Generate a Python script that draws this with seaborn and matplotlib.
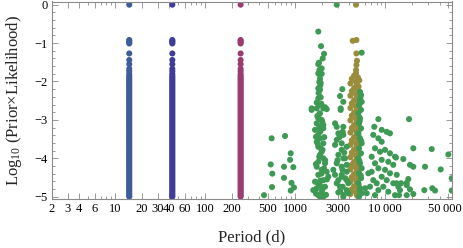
import colorsys
import numpy as np
import pandas as pd
import matplotlib
matplotlib.use("Agg")
import matplotlib.pyplot as plt
import matplotlib.transforms as mtransforms
import seaborn as sns
from matplotlib.ticker import FixedLocator, FixedFormatter, NullFormatter

# ---------------- data ----------------
# log10(prior x likelihood) values shared by the three narrow period columns
column_logl = [0.0, -0.92, -0.95, -0.98, -1.01, -1.27, -1.44, -1.55, -1.67, -1.73, -1.80,
               -1.85, -1.89, -1.93, -1.97, -2.01, -2.05, -2.09, -2.13, -2.17, -2.21,
               -2.25, -2.29, -2.33, -2.37, -2.41, -2.45, -2.49, -2.53, -2.57, -2.61,
               -2.65, -2.69, -2.73, -2.77, -2.81, -2.85, -2.89, -2.93, -2.97, -3.01,
               -3.05, -3.09, -3.13, -3.17, -3.21, -3.25, -3.29, -3.33, -3.37, -3.41,
               -3.45, -3.49, -3.53, -3.57, -3.61, -3.65, -3.69, -3.73, -3.77, -3.81,
               -3.85, -3.89, -3.93, -3.97, -4.01, -4.05, -4.09, -4.13, -4.17, -4.21,
               -4.25, -4.29, -4.33, -4.37, -4.41, -4.45, -4.49, -4.53, -4.57, -4.61,
               -4.65, -4.69, -4.73, -4.77, -4.81, -4.85, -4.89, -4.93, -4.97, -5.00]
blue_period = 14.4
navy_period = 43.3
magenta_period = 248.0

olive_period = [4733, 4350, 4780, 4780, 4850, 4780, 4733, 4733,
                4500, 4950, 4250, 5150, 4733, 4100, 4850, 5050,
                4500, 4950, 4250, 5150, 4733, 4100, 4850, 5050,
                4500, 4950, 4250, 5150, 4733, 4100, 4850, 5050,
                4500, 4950, 4250, 5150, 4733, 4100, 4850, 5050,
                4500, 4950, 4250, 5150, 4733, 4100, 4850, 5050,
                4500, 4950, 4250, 5150, 4733, 4100, 4850, 5050,
                4500, 4950, 4250, 5150, 4733, 4100, 4850, 5050,
                4500, 4950, 4250, 5150, 4733, 4100, 4850, 5050,
                4500, 4950, 4250, 5150, 4733, 4100, 4850, 5050,
                4500, 4950, 4250, 5150, 4733, 4100, 4850, 5050]
olive_logl = [0.0, -0.94, -0.92, -1.27, -1.46, -1.57, -1.70, -1.78,
              -1.85, -1.89, -1.93, -1.97, -2.01, -2.05, -2.09, -2.13,
              -2.17, -2.21, -2.25, -2.29, -2.33, -2.37, -2.41, -2.45,
              -2.49, -2.53, -2.57, -2.61, -2.65, -2.69, -2.73, -2.77,
              -2.81, -2.85, -2.89, -2.93, -2.97, -3.01, -3.05, -3.09,
              -3.13, -3.17, -3.21, -3.25, -3.29, -3.33, -3.37, -3.41,
              -3.45, -3.49, -3.53, -3.57, -3.61, -3.65, -3.69, -3.73,
              -3.77, -3.81, -3.85, -3.89, -3.93, -3.97, -4.01, -4.05,
              -4.09, -4.13, -4.17, -4.21, -4.25, -4.29, -4.33, -4.37,
              -4.41, -4.45, -4.49, -4.53, -4.57, -4.61, -4.65, -4.69,
              -4.73, -4.77, -4.81, -4.85, -4.89, -4.93, -4.97, -5.00]

green_period = [
    451, 535, 548, 557, 553, 771, 892, 877, 752, 953, 752, 910, 970, 892,
    2890, 5470, 1805, 1935, 2089, 2019, 1837, 1805, 1968, 1805, 1884, 1968, 1884, 1852,
    1920, 1805, 1884, 3334, 3144, 3420, 1805, 1920, 1734, 1852, 1525, 2143, 2237, 3198,
    1525, 1734, 2051, 1884, 1805, 1968, 1734, 2051, 1660, 1805, 1884, 1734, 2051, 1805,
    1968, 1884, 2051, 1805, 2143, 1734, 1968, 2237, 1805, 2332, 2051, 1660, 1884, 2143,
    1734, 1968, 1805, 2051, 1884, 1852, 1702, 1920, 2089, 1589,
    1760, 2000, 1900, 2100, 1780, 2010, 1850, 2150, 1700, 1950, 2250, 1800, 2000, 1700,
    2200, 1900, 2050, 1850, 1950, 1820, 1900, 1860,
    3198, 2768, 2890, 3420, 3367, 2768, 3281, 3730, 3012, 3420, 2890, 3281, 3730, 2651,
    2768, 3281, 3730, 2890, 3367, 3730, 3012, 3420, 3012, 3420, 2890, 3281, 3572, 3730,
    3281, 3012, 3889, 3144, 3889, 3100, 3500, 2950, 3350, 3600, 3150, 3450,
    5242, 5378, 5242, 5110, 5378, 5019, 5242, 5110, 5378, 5019, 5242, 5470, 5110, 5378,
    5019, 5242, 5470, 5110, 5378, 5019, 5242, 5470, 5110, 5470,
    5300, 5200, 5400, 5150, 5350, 5200,
    8377, 7551, 9120, 10360, 11270, 7359, 8377, 9120, 7688, 8737, 9930, 11270, 12820,
    7063, 9120, 10790, 7688, 12270, 8377, 9930, 6483, 11270, 9120, 13390, 7359, 10360,
    8032, 12270, 6767, 9508, 13940, 8377, 10790, 6220, 7688, 12820, 5957, 7063,
    18330, 20460, 32740, 50090, 13150, 15850, 18800, 20460, 27600, 41210, 54580, 13390,
    14940, 17290, 18000, 17290, 18800, 14560, 27100, 33270, 35650, 54580, 14200, 17290,
    20460]
green_logl = [
    -4.96, -4.16, -3.48, -4.40, -4.75, -3.42, -3.87, -4.04, -4.22, -4.23, -4.51, -4.64, -4.76, -4.84,
    0.0, -1.25, -0.70, -1.08, -1.28, -1.40, -1.51, -1.55, -1.66, -1.79, -1.83, -1.80, -1.93, -2.01,
    -2.04, -2.18, -2.22, -2.20, -2.38, -2.53, -2.44, -2.41, -2.55, -2.61, -2.70, -2.67, -2.72, -2.70,
    -2.74, -2.70, -2.70, -2.83, -2.96, -3.00, -3.09, -3.13, -3.26, -3.39, -3.48, -3.57, -3.61, -3.70,
    -3.83, -3.91, -4.00, -4.09, -4.13, -4.22, -4.30, -4.35, -4.43, -4.48, -4.57, -4.61, -4.70, -4.74,
    -4.78, -4.87, -4.96, -5.00, -5.00, -3.18, -3.44, -3.74, -4.26, -4.83,
    -2.90, -3.05, -3.30, -3.45, -3.62, -3.78, -3.96, -4.05, -4.15, -4.40, -4.55, -4.66, -4.82, -4.92,
    -4.95, -4.58, -3.22, -2.85, -2.58, -2.30, -2.10, -1.70,
    -2.74, -3.09, -3.18, -3.18, -3.31, -3.65, -3.61, -3.70, -3.91, -4.00, -4.13, -4.22, -4.17, -4.30,
    -4.43, -4.43, -4.57, -4.65, -4.74, -4.83, -4.89, -5.00, -3.35, -3.39, -3.52, -3.78, -4.00, -4.35,
    -4.48, -4.57, -4.65, -4.74, -4.91, -3.45, -3.85, -4.05, -4.30, -4.52, -4.85, -4.95,
    -2.27, -2.35, -2.48, -2.61, -2.74, -2.83, -2.96, -3.09, -3.22, -3.35, -3.48, -3.61, -3.74, -3.87,
    -4.00, -4.13, -4.26, -4.39, -4.52, -4.65, -4.78, -4.91, -5.00, -2.53,
    -2.42, -3.03, -3.55, -4.07, -4.45, -4.85,
    -2.98, -3.18, -3.26, -3.31, -3.35, -3.39, -3.48, -3.57, -3.74, -3.83, -3.78, -3.87, -3.96,
    -3.96, -4.04, -4.09, -4.13, -4.17, -4.26, -4.30, -4.39, -4.39, -4.48, -4.43, -4.57, -4.57,
    -4.65, -4.65, -4.74, -4.74, -4.74, -4.83, -4.87, -4.91, -4.96, -4.96, -4.78, -4.35,
    -2.98, -3.74, -3.76, -3.90, -3.98, -4.02, -4.17, -4.22, -4.22, -4.29, -4.52, -4.65,
    -4.65, -4.64, -4.54, -4.70, -4.81, -4.83, -4.83, -4.78, -4.84, -4.84, -4.96, -4.96,
    -4.93]

xtick_values = [2, 3, 4, 6, 10, 20, 30, 40, 60, 100, 200, 500, 1000, 3000, 10000, 50000]
xtick_labels = ["2", "3", "4", "6", "10", "20", "30", "40", "60", "100", "200", "500",
                "1000", "3000", "10\u2009000", "50\u2009000"]
ytick_values = [0, -1, -2, -3, -4, -5]

# ---------------- table ----------------
n_col = len(column_logl)
df = pd.DataFrame({
    "period": [blue_period] * n_col + [navy_period] * n_col + [magenta_period] * n_col
              + olive_period + green_period,
    "logl": column_logl * 3 + olive_logl + green_logl,
    "group": ["blue"] * n_col + ["navy"] * n_col + ["magenta"] * n_col
             + ["olive"] * len(olive_period) + ["green"] * len(green_period),
})

def hue(h):
    return colorsys.hsv_to_rgb(h, 0.6, 0.6)

palette = {"blue": hue(0.61), "navy": hue(0.67), "magenta": hue(0.906068),
           "olive": hue(0.145536), "green": hue(0.372676)}

# ---------------- style ----------------
sns.set_style("ticks")
plt.rcParams["font.family"] = ["Liberation Serif", "DejaVu Serif"]
plt.rcParams["mathtext.fontset"] = "custom"
plt.rcParams["mathtext.rm"] = "Liberation Serif"
plt.rcParams["mathtext.it"] = "Liberation Serif:italic"

W, H = 463, 248
fig = plt.figure(figsize=(W / 100, H / 100), dpi=100)
ax = fig.add_axes([52 / W, 49.5 / H, 400 / W, 197 / H])

sns.scatterplot(data=df, x="period", y="logl", hue="group", palette=palette,
                s=19, linewidth=0, alpha=1, legend=False, ax=ax)

ax.set_xscale("log")
ax.set_xlim(2, 55000)
ax.set_ylim(-5.047, 0.083)

# ticks
ax.xaxis.set_major_locator(FixedLocator(xtick_values))
ax.xaxis.set_major_formatter(FixedFormatter(xtick_labels))
minor_x = [k * 10 ** e for e in range(0, 5) for k in range(1, 10)
           if 2 <= k * 10 ** e <= 55000 and k * 10 ** e not in xtick_values]
ax.xaxis.set_minor_locator(FixedLocator(minor_x))
ax.xaxis.set_minor_formatter(NullFormatter())
ax.yaxis.set_major_locator(FixedLocator(ytick_values))
ax.yaxis.set_major_formatter(FixedFormatter(["0", "\u22121", "\u22122", "\u22123", "\u22124", "\u22125"]))
minor_y = [v / 10 for v in range(-50, 1, 2) if v % 10 != 0]
ax.yaxis.set_minor_locator(FixedLocator(minor_y))

frame_col = "#8a8a8a"
ax.tick_params(which="both", direction="in", top=True, right=True, color=frame_col,
               labelsize=9, labelcolor="black", width=0.6)
ax.tick_params(which="major", length=4, pad=3)
ax.tick_params(which="minor", length=2)
for sp in ax.spines.values():
    sp.set_color(frame_col)
    sp.set_linewidth(0.8)

# keep the last tick label inside the figure
fig.canvas.draw()
last = ax.get_xticklabels()[-1]
last.set_transform(last.get_transform() + mtransforms.ScaledTranslation(-3 / 100, 0, fig.dpi_scale_trans))

ax.set_xlabel("Period (d)", fontsize=12)
ax.set_ylabel("Log$_{10}$ (Prior\u00d7Likelihood)", fontsize=12)
ax.xaxis.set_label_coords(0.5, -0.155)
ax.yaxis.set_label_coords(-0.07, 0.5)

fig.savefig("out.png", dpi=100)
